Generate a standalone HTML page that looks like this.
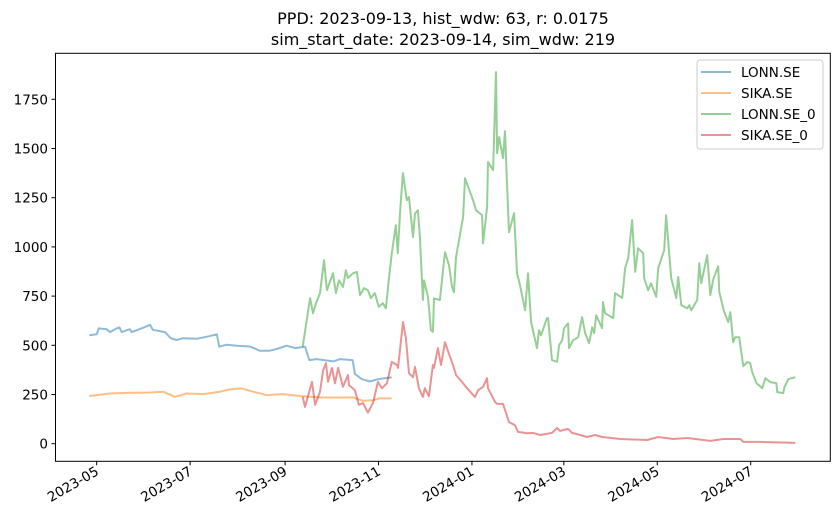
<!DOCTYPE html>
<html><head><meta charset="utf-8"><style>
html,body{margin:0;padding:0;background:#fff;}
svg{display:block;font-family:"DejaVu Sans","Liberation Sans",sans-serif;}
</style></head><body>
<svg id="chart" width="839" height="522" viewBox="0 0 839 522" xmlns="http://www.w3.org/2000/svg">
<rect width="839" height="522" fill="#fff"/>
<text x="443" y="24" text-anchor="middle" font-size="16">PPD: 2023-09-13, hist_wdw: 63, r: 0.0175</text>
<text x="443" y="45" text-anchor="middle" font-size="16">sim_start_date: 2023-09-14, sim_wdw: 219</text>
<g id="plot"></g>
<rect x="55.5" y="53.3" width="774.8" height="408" fill="none" stroke="#000" stroke-width="1"/>
<g id="axes"></g>
<g>
<rect x="697" y="60" width="126" height="89" rx="3" fill="#fff" fill-opacity="0.8" stroke="#ccc"/>
<g><line x1="701" y1="72" x2="731" y2="72" stroke="#1f77b4" stroke-opacity="0.5" stroke-width="2"/><text x="741" y="77" font-size="13.5">LONN.SE</text></g>
<g><line x1="701" y1="93" x2="731" y2="93" stroke="#ff7f0e" stroke-opacity="0.5" stroke-width="2"/><text x="741" y="98" font-size="13.5">SIKA.SE</text></g>
<g><line x1="701" y1="114" x2="731" y2="114" stroke="#2ca02c" stroke-opacity="0.5" stroke-width="2"/><text x="741" y="119" font-size="13.5">LONN.SE_0</text></g>
<g><line x1="701" y1="135" x2="731" y2="135" stroke="#d62728" stroke-opacity="0.5" stroke-width="2"/><text x="741" y="140" font-size="13.5">SIKA.SE_0</text></g>
</g>
</svg>
<script>
// days since 2023-05-01
const yTicks = [0,250,500,750,1000,1250,1500,1750];
const xTickLabels = ["2023-05","2023-07","2023-09","2023-11","2024-01","2024-03","2024-05","2024-07"];
const xTickDays = [0,61,123,184,245,305,366,427];
const lonnDays = [-4.8,0,1.3,6.5,8.7,13,14.8,16.3,21.7,22.8,30.9,34.8,36.6,44.6,48.3,52.2,56.5,65.3,73.5,78.4,80,84.9,91.4,100.1,106.6,112.7,117.5,124,129.5,136,138.8,143.6,154.5,158.9,167.1,168.6,173,178.4,183.9,192.6];
const lonnVals = [551,556,586,582,567,586,591,567,582,567,591,604,579,567,536,527,536,533,546,556,493,503,498,494,472,472,481,498,486,493,425,430,418,430,425,354,328,316,328,337];
const sikaDays = [-4.8,0,8.7,19.6,34.8,43.5,51.1,58.7,69.6,80.5,87,94.6,102.2,110.9,121.8,133.7,145.7,154.4,167.4,173.9,180.5,184.8,192.6];
const sikaVals = [242,247,255,258,260,264,238,255,252,264,276,281,264,247,252,242,235,235,235,218,221,230,230];
const lonnSimDays = [134.5,139.3,141.2,143.2,145.8,148.4,150.3,154.3,156.2,158.2,160.8,162.7,164,167.3,169.9,171.9,174.5,177.1,179,181.6,184.2,186.8,188.8,190.1,192.7,195.3,196.6,198,199.9,202.5,203.9,206.5,207.8,209.7,211,213,213.7,216.3,218.2,219.5,220.2,224.1,226.1,227.4,230,232,233.3,234.6,239.2,240.5,245.7,247.7,251.6,252.2,254.9,255.5,258.8,260.7,261.4,262.7,265.3,266.6,267.9,269.2,272.5,274.4,276.4,279.7,281.6,283.6,287.5,288.8,290.1,294,294.7,297.3,300.6,301.9,303.9,305.2,307.8,308.4,311.1,314.3,316.9,318.9,321.5,323.5,324.8,326.1,330,330.6,331.9,337.2,338.5,343.1,345,347,349.6,351.6,353.5,356.8,357.4,360,362,365.3,366.6,370.5,371.8,375.1,378.4,379.7,381.7,385.6,386.9,388.2,392.1,393.4,394.7,398.6,400.6,402.6,405.8,406.5,409.8,412.4,413.7,415.6,416.9,419.5,422.2,424.8,426.7,428,430.7,434.6,436.6,439.8,443.7,444.4,448.3,449,451.6,456.2];
const lonnSimVals = [493,740,663,714,765,933,780,866,765,830,797,881,842,866,873,755,790,780,740,765,695,714,688,790,968,1110,968,1170,1375,1238,1253,1050,1170,1186,1050,730,830,746,577,568,738,730,881,973,907,797,770,948,1151,1349,1238,1186,1161,1018,1202,1431,1390,1888,1476,1558,1451,1588,1323,1075,1171,866,806,678,866,618,486,577,551,638,638,425,416,501,526,587,612,486,526,541,643,562,511,592,562,653,587,720,663,638,765,740,892,943,1136,873,993,968,842,780,815,746,892,983,1161,842,740,847,704,688,704,678,730,917,815,958,755,836,902,770,668,618,668,516,541,541,394,416,409,364,308,282,333,313,308,262,257,287,328,338];
const sikaSimDays = [134.5,136,140.6,142.6,145.8,147.8,149.7,151,153.6,155.6,157.6,160.8,164,164.7,168.6,171.2,173.8,177.1,180.4,183.6,186.2,189.5,192.7,196.1,196.7,200,201.9,203.9,206.5,207.8,210.4,213,214.3,216.9,219.5,220.2,222.8,224.8,227.4,230.7,232.6,234.6,238.5,241.8,247,249,252.3,254.8,255.5,260.1,261.4,265.3,269.2,273.1,275.1,281,284.9,289.5,297.3,300.6,302.5,307.8,310.4,315.6,320.2,325.4,330,341.7,359.4,366.6,376.4,385.6,400.6,409.1,420.2,422.2,433.3,456.2];
const sikaSimVals = [239,187,314,197,263,373,409,314,385,307,385,289,349,298,272,197,207,158,207,314,282,307,416,400,385,618,536,358,338,390,282,238,282,241,400,385,486,400,516,441,400,349,314,282,238,272,289,333,282,212,202,202,110,94,60,53,55,44,55,80,65,75,55,44,34,44,34,24,19,34,24,29,14,24,24,9,9,4];

const X0 = 96.7, PXD = 1.5316, Y0 = 443.7, PXV = 0.1968;
function xs(d){ return X0 + d*PXD; }
function ys(v){ return Y0 - v*PXV; }
const NS = "http://www.w3.org/2000/svg";
const plot = document.getElementById('plot');
const axes = document.getElementById('axes');

function drawSeries(days, vals, color, name){
  const p = document.createElementNS(NS,'path');
  let d = '';
  for(let i=0;i<days.length;i++){ d += (i?'L':'M') + xs(days[i]).toFixed(1) + ',' + ys(vals[i]).toFixed(1); }
  p.setAttribute('d', d);
  p.setAttribute('fill','none');
  p.setAttribute('stroke', color);
  p.setAttribute('stroke-opacity','0.5');
  p.setAttribute('stroke-width','2');
  p.setAttribute('stroke-linejoin','round');
  
  
  plot.appendChild(p);
}
drawSeries(lonnDays, lonnVals, '#1f77b4', 'series-lonn');
drawSeries(sikaDays, sikaVals, '#ff7f0e', 'series-sika');
drawSeries(lonnSimDays, lonnSimVals, '#2ca02c', 'series-lonn-sim');
drawSeries(sikaSimDays, sikaSimVals, '#d62728', 'series-sika-sim');

yTicks.forEach(v=>{
  const y = ys(v);
  const l = document.createElementNS(NS,'line');
  l.setAttribute('x1',51.5); l.setAttribute('x2',55.5); l.setAttribute('y1',y); l.setAttribute('y2',y);
  l.setAttribute('stroke','#000');
  
  
  axes.appendChild(l);
  const t = document.createElementNS(NS,'text');
  t.setAttribute('x',48); t.setAttribute('y',y+5);
  t.setAttribute('text-anchor','end'); t.setAttribute('font-size','13.5');
  t.textContent = v;
  
  
  axes.appendChild(t);
});
xTickDays.forEach((d,i)=>{
  const x = xs(d);
  const l = document.createElementNS(NS,'line');
  l.setAttribute('x1',x); l.setAttribute('x2',x); l.setAttribute('y1',461.3); l.setAttribute('y2',465.3);
  l.setAttribute('stroke','#000');
  
  
  axes.appendChild(l);
  const t = document.createElementNS(NS,'text');
  t.setAttribute('x',x+3); t.setAttribute('y',474);
  t.setAttribute('text-anchor','end'); t.setAttribute('font-size','13.5');
  t.setAttribute('transform','rotate(-30 '+(x+3)+' 474)');
  t.textContent = xTickLabels[i];
  
  
  axes.appendChild(t);
});
</script>
</body></html>
